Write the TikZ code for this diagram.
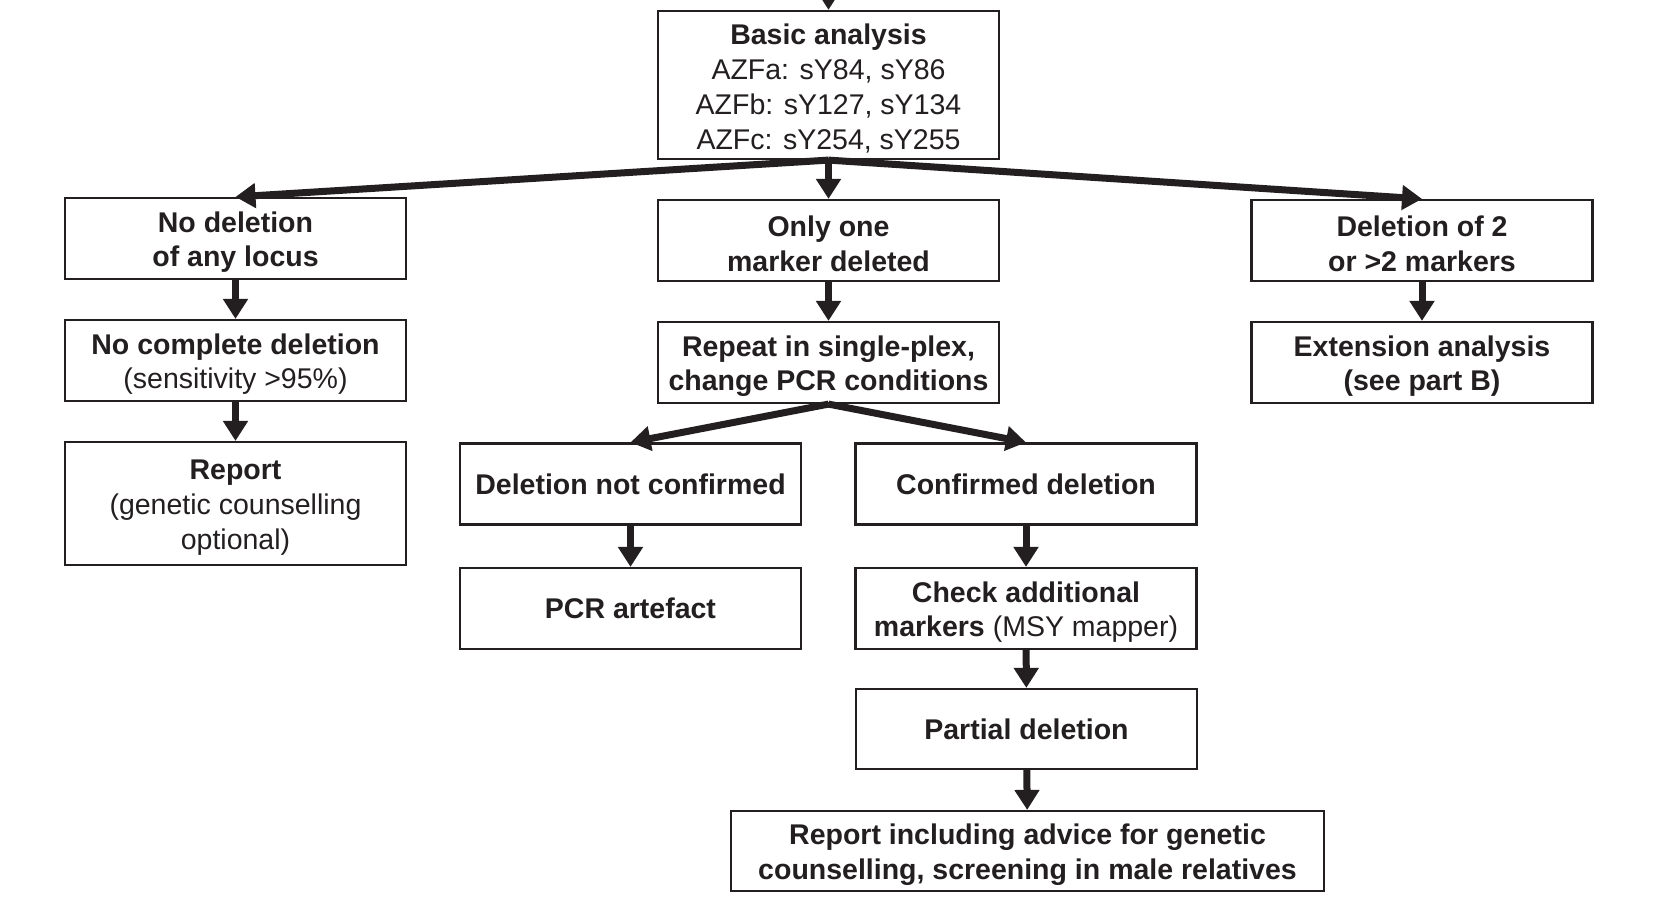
\documentclass[tikz,border=0pt]{standalone}
\usepackage{fontspec}
\setmainfont{Liberation Sans}
\usetikzlibrary{arrows.meta}
\definecolor{ink}{RGB}{35,31,32}
\newcommand\stt{\rule{0pt}{14pt}}
\begin{document}
\begin{tikzpicture}[x=0.5pt,y=-0.5pt,
  box/.style={draw=ink, line width=1.1pt, text=ink, inner sep=0pt,
    minimum width=170.5pt, minimum height=40.5pt, align=center,
    font=\fontsize{14.25pt}{17.4pt}\selectfont},
  arr/.style={draw=ink, line width=3.5pt, -{Triangle[length=10pt,width=12pt]}}
]
\useasboundingbox (0,0) rectangle (1659,904);
\fill[white] (0,0) rectangle (1659,904);

\node[box, minimum height=74pt] (basic) at (828.5,85) {\stt\textbf{Basic analysis}\\AZFa: sY84, sY86\\AZFb: sY127, sY134\\AZFc: sY254, sY255};
\node[box] (nodel) at (235.5,238.5) {\stt\textbf{No deletion}\\\textbf{of any locus}};
\node[box] (onlyone) at (828.5,240.5) {\stt\textbf{Only one}\\\textbf{marker deleted}};
\node[box] (del2) at (1422,240.5) {\stt\textbf{Deletion of 2}\\\textbf{or >2 markers}};
\node[box] (nocomp) at (235.5,360.5) {\stt\textbf{No complete deletion}\\(sensitivity >95\%)};
\node[box] (repeat) at (828.5,362.5) {\stt\textbf{Repeat in single-plex,}\\\textbf{change PCR conditions}};
\node[box] (ext) at (1422,362.5) {\stt\textbf{Extension analysis}\\\textbf{(see part B)}};
\node[box, minimum height=61.5pt] (report) at (235.5,503.5) {\stt\textbf{Report}\\(genetic counselling\\optional)};
\node[box] (notconf) at (630.5,484) {\textbf{Deletion not confirmed}};
\node[box] (conf) at (1026,484) {\textbf{Confirmed deletion}};
\node[box] (pcr) at (630.5,608.5) {\textbf{PCR artefact}};
\node[box] (check) at (1026,608.5) {\stt\textbf{Check additional}\\\textbf{markers} (MSY mapper)};
\node[box, minimum height=40pt] (partial) at (1026.5,729) {\textbf{Partial deletion}};
\node[box, minimum width=296.5pt, minimum height=40pt] (final) at (1027.5,851) {\stt\textbf{Report including advice for genetic}\\\textbf{counselling, screening in male relatives}};

\coordinate (top) at (828.5,-40);
\draw[arr] (top) -- (basic.north);
\draw[arr] (basic.south) -- (nodel.north);
\draw[arr] (basic.south) -- (onlyone.north);
\draw[arr] (basic.south) -- (del2.north);
\draw[arr] (nodel) -- (nocomp);
\draw[arr] (nocomp) -- (report);
\draw[arr] (onlyone) -- (repeat);
\draw[arr] (del2) -- (ext);
\draw[arr] (repeat.south) -- (notconf.north);
\draw[arr] (repeat.south) -- (conf.north);
\draw[arr] (notconf) -- (pcr);
\draw[arr] (conf) -- (check);
\draw[arr] (check) -- (partial);
\draw[arr] (partial) -- (final);
\end{tikzpicture}
\end{document}
